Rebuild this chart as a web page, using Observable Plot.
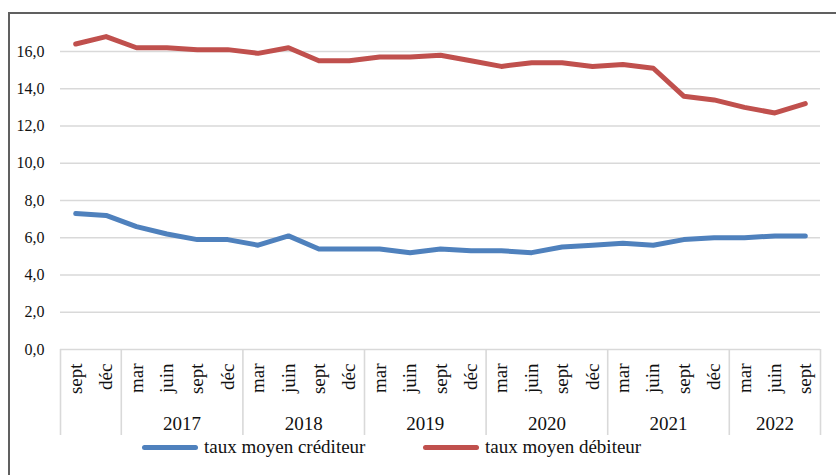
<!DOCTYPE html>
<html>
<head>
<meta charset="utf-8">
<script src="https://cdn.jsdelivr.net/npm/d3@7"></script>
<script src="https://cdn.jsdelivr.net/npm/@observablehq/plot@0.6"></script>
<style>
  html, body { margin: 0; padding: 0; background: #fff; overflow: hidden; width: 836px; height: 475px; }
  #frame { position: absolute; left: 8px; top: 12px; width: 1000px; height: 1000px; border: 2px solid #606060; box-sizing: border-box; }
  #chart { position: absolute; left: 0; top: 0; }
  #legend { position: absolute; left: 0; top: 436px; width: 836px; height: 22px; color: #111; }
  .item { position: absolute; top: 0; height: 22px; line-height: 22px; white-space: nowrap; font-size: 19px; }
  .sw { display: inline-block; width: 56px; height: 5px; border-radius: 3px; vertical-align: middle; margin-right: 6px; position: relative; top: -1px; }
</style>
</head>
<body>
<div id="frame"></div>
<div id="chart"></div>
<div id="legend"></div>
<script>
// Quarter labels (sept 2016 → sept 2022)
const quarters = ["sept","déc",
  "mar","juin","sept","déc",
  "mar","juin","sept","déc",
  "mar","juin","sept","déc",
  "mar","juin","sept","déc",
  "mar","juin","sept","déc",
  "mar","juin","sept"];
// Year groups: label and number of quarters in the group
const yearLabels = ["", "2017", "2018", "2019", "2020", "2021", "2022"];
const yearSizes = [2, 4, 4, 4, 4, 4, 3];

const seriesNames = ["taux moyen créditeur", "taux moyen débiteur"];
const crediteur = [7.3,7.2,6.6,6.2,5.9,5.9,5.6,6.1,5.4,5.4,5.4,5.2,5.4,5.3,5.3,5.2,5.5,5.6,5.7,5.6,5.9,6.0,6.0,6.1,6.1];
const debiteur  = [16.4,16.8,16.2,16.2,16.1,16.1,15.9,16.2,15.5,15.5,15.7,15.7,15.8,15.5,15.2,15.4,15.4,15.2,15.3,15.1,13.6,13.4,13.0,12.7,13.2];
const yTicks = [0,2,4,6,8,10,12,14,16];
const colors = ["#4f81bd", "#c0504d"];

// Build tables
const rows = [];
quarters.forEach((q, i) => {
  rows.push({i: i + 0.5, v: crediteur[i], s: seriesNames[0]});
  rows.push({i: i + 0.5, v: debiteur[i], s: seriesNames[1]});
});
const bounds = [0];
const centers = [];
yearSizes.forEach((n, k) => {
  const start = bounds[bounds.length - 1];
  centers.push({x: start + n / 2, label: yearLabels[k]});
  bounds.push(start + n);
});
const qTicks = quarters.map((q, i) => i + 0.5);

const fmt = d => d.toFixed(1).replace(".", ",");
const serif = "'Liberation Serif', 'Tinos', 'DejaVu Serif', 'Times New Roman', serif";

const chart = Plot.plot({
  width: 836,
  height: 436,
  marginLeft: 60,
  marginRight: 16,
  marginTop: 51,
  marginBottom: 87,
  style: {fontFamily: serif, color: "#111", background: "transparent"},
  x: {type: "linear", domain: [0, quarters.length], axis: null, label: null},
  y: {domain: [0, 16], axis: null, label: null},
  color: {domain: seriesNames, range: colors},
  marks: [
    Plot.ruleY(yTicks, {stroke: "#d9d9d9", strokeWidth: 1.6}),
    Plot.axisY({ticks: yTicks, tickSize: 0, tickPadding: 16, tickFormat: fmt, fontSize: 16, label: null}),
    Plot.axisX({ticks: bounds, tickSize: 86, tickFormat: () => "", stroke: "#d9d9d9", strokeWidth: 1.6, label: null}),
    Plot.axisX({ticks: qTicks, tickSize: 0, tickPadding: 14, tickRotate: -90, tickFormat: (d) => quarters[Math.round(d - 0.5)], fontSize: 19, label: null}),
    Plot.axisX({ticks: centers.map(c => c.x), tickSize: 0, tickPadding: 67, tickFormat: (d) => centers.find(c => c.x === d).label, fontSize: 19, label: null}),
    Plot.lineY(rows, {x: "i", y: "v", z: "s", stroke: "s", strokeWidth: 5, strokeLinecap: "round", strokeLinejoin: "round", clip: false})
  ]
});
document.getElementById("chart").appendChild(chart);

// Legend
const legend = document.getElementById("legend");
const lefts = [142, 423];
seriesNames.forEach((name, k) => {
  const item = document.createElement("div");
  item.className = "item";
  item.style.left = lefts[k] + "px";
  item.style.fontFamily = serif;
  const sw = document.createElement("span");
  sw.className = "sw";
  sw.style.background = colors[k];
  item.appendChild(sw);
  item.appendChild(document.createTextNode(name));
  legend.appendChild(item);
});
</script>
</body>
</html>
